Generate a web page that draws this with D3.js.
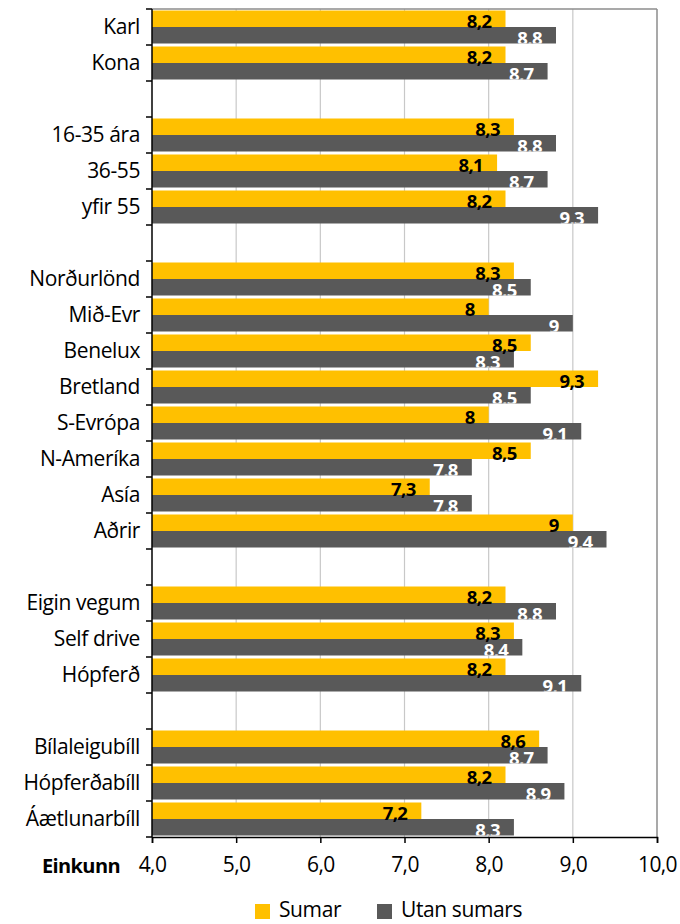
<!DOCTYPE html>
<html>
<head>
<meta charset="utf-8">
<script src="https://cdn.jsdelivr.net/npm/d3@7"></script>
<style>
  body { margin: 0; background: #fff; }
  text { font-family: "Open Sans", Lato, sans-serif; }
</style>
</head>
<body>
<svg id="chart" width="680" height="924"></svg>
<script>
// flokkar (tómir strengir = bil milli hópa)
const categories = ['Karl', 'Kona', '', '16-35 ára', '36-55', 'yfir 55', '',
  'Norðurlönd', 'Mið-Evr', 'Benelux', 'Bretland', 'S-Evrópa', 'N-Ameríka', 'Asía', 'Aðrir', '',
  'Eigin vegum', 'Self drive', 'Hópferð', '',
  'Bílaleigubíll', 'Hópferðabíll', 'Áætlunarbíll'];
const sumar = [8.2, 8.2, null, 8.3, 8.1, 8.2, null,
  8.3, 8, 8.5, 9.3, 8, 8.5, 7.3, 9, null,
  8.2, 8.3, 8.2, null,
  8.6, 8.2, 7.2];
const utanSumars = [8.8, 8.7, null, 8.8, 8.7, 9.3, null,
  8.5, 9, 8.3, 8.5, 9.1, 7.8, 7.8, 9.4, null,
  8.8, 8.4, 9.1, null,
  8.7, 8.9, 8.3];
const xTicks = [4, 5, 6, 7, 8, 9, 10];
const seriesNames = ['Sumar', 'Utan sumars'];
const colors = ['#FFC000', '#595959'];

const svg = d3.select('#chart');
const margin = { top: 9, left: 152, right: 23, bottom: 87 };
const width = +svg.attr('width');
const height = +svg.attr('height');

const keys = categories.map((c, i) => i);
const y = d3.scaleBand().domain(keys).range([margin.top, height - margin.bottom]).paddingInner(0);
const x = d3.scaleLinear().domain([4, 10]).range([margin.left, width - margin.right]);
const inner = d3.scaleBand().domain([0, 1]).range([1.5, y.bandwidth() - 1.5]);

const fmt = v => String(v).replace('.', ',');

// hnitanet
svg.append('g').selectAll('line')
  .data(xTicks.slice(1))
  .join('line')
  .attr('x1', d => x(d)).attr('x2', d => x(d))
  .attr('y1', margin.top).attr('y2', height - margin.bottom)
  .attr('stroke', d => d === 10 ? '#8c8c8c' : '#c8c8c8')
  .attr('stroke-width', d => d === 10 ? 1.5 : 1.2);

// efri rammi
svg.append('line')
  .attr('x1', margin.left).attr('x2', x(10))
  .attr('y1', margin.top).attr('y2', margin.top)
  .attr('stroke', '#8c8c8c').attr('stroke-width', 1.5);

const defs = svg.append('defs');
const rows = keys.filter(i => sumar[i] !== null);

// súlur
const barG = svg.append('g');
rows.forEach(i => {
  [sumar[i], utanSumars[i]].forEach((v, s) => {
    barG.append('rect')
      .attr('x', x(4))
      .attr('y', y(i) + inner(s))
      .attr('width', x(v) - x(4))
      .attr('height', inner.bandwidth())
      .attr('fill', colors[s]);
  });
});

// gildismerki
const labG = svg.append('g').attr('font-size', 18.5).attr('font-weight', 'bold')
  .attr('text-anchor', 'end').attr('letter-spacing', -0.6);
rows.forEach(i => {
  // utan sumars: hvítur texti, klipptur við súluna
  const top = y(i) + inner(1);
  defs.append('clipPath').attr('id', 'clip' + i)
    .append('rect')
    .attr('x', x(4)).attr('y', top)
    .attr('width', x(utanSumars[i]) - x(4)).attr('height', inner.bandwidth());
  labG.append('text')
    .attr('clip-path', `url(#clip${i})`)
    .attr('x', x(utanSumars[i]) - 14)
    .attr('y', top + inner.bandwidth() + 1)
    .attr('fill', '#fff')
    .text(fmt(utanSumars[i]));
});
rows.forEach(i => {
  labG.append('text')
    .attr('x', x(sumar[i]) - 14)
    .attr('y', y(i) + inner(0) + inner.bandwidth() + 1)
    .attr('fill', '#000')
    .text(fmt(sumar[i]));
});

// y-ás
const yAxisG = svg.append('g');
yAxisG.append('line')
  .attr('x1', margin.left).attr('x2', margin.left)
  .attr('y1', margin.top).attr('y2', height - margin.bottom)
  .attr('stroke', '#000').attr('stroke-width', 1.5);
yAxisG.selectAll('line.tick')
  .data(d3.range(categories.length + 1))
  .join('line').attr('class', 'tick')
  .attr('x1', margin.left - 6).attr('x2', margin.left)
  .attr('y1', d => margin.top + d * y.step())
  .attr('y2', d => margin.top + d * y.step())
  .attr('stroke', '#000').attr('stroke-width', 1.5);
yAxisG.selectAll('text')
  .data(rows)
  .join('text')
  .attr('x', 140)
  .attr('y', d => y(d) + y.bandwidth() / 2)
  .attr('dy', '0.35em')
  .attr('text-anchor', 'end')
  .attr('font-size', 21)
  .attr('letter-spacing', -0.4)
  .attr('fill', '#000')
  .text(d => categories[d]);

// x-ás
const xAxis = d3.axisBottom(x).tickValues(xTicks).tickSize(6).tickPadding(14)
  .tickFormat(d => d3.format('.1f')(d).replace('.', ','));
const xg = svg.append('g')
  .attr('transform', `translate(0,${height - margin.bottom})`)
  .call(xAxis);
xg.select('.domain').attr('stroke', '#000').attr('stroke-width', 1.5);
xg.selectAll('.tick line').attr('stroke', '#000').attr('stroke-width', 1.5);
xg.selectAll('.tick text').attr('font-size', 21).attr('fill', '#000')
  .attr('letter-spacing', -0.6)
  .attr('font-family', '"Open Sans", sans-serif');

svg.append('text')
  .attr('x', 120).attr('y', height - margin.bottom + 36)
  .attr('text-anchor', 'end')
  .attr('font-size', 20).attr('font-weight', 'bold')
  .attr('letter-spacing', -0.6)
  .text('Einkunn');

// skýringar
const legend = svg.append('g').attr('transform', 'translate(255,910)');
const legX = [0, 122];
seriesNames.forEach((name, s) => {
  const g = legend.append('g').attr('transform', `translate(${legX[s]},0)`);
  g.append('rect').attr('x', 0).attr('y', -6).attr('width', 15).attr('height', 15).attr('fill', colors[s]);
  g.append('text').attr('x', 24).attr('y', 0).attr('dy', '0.35em')
    .attr('font-size', 21).attr('letter-spacing', -0.4).text(name);
});
</script>
</body>
</html>
